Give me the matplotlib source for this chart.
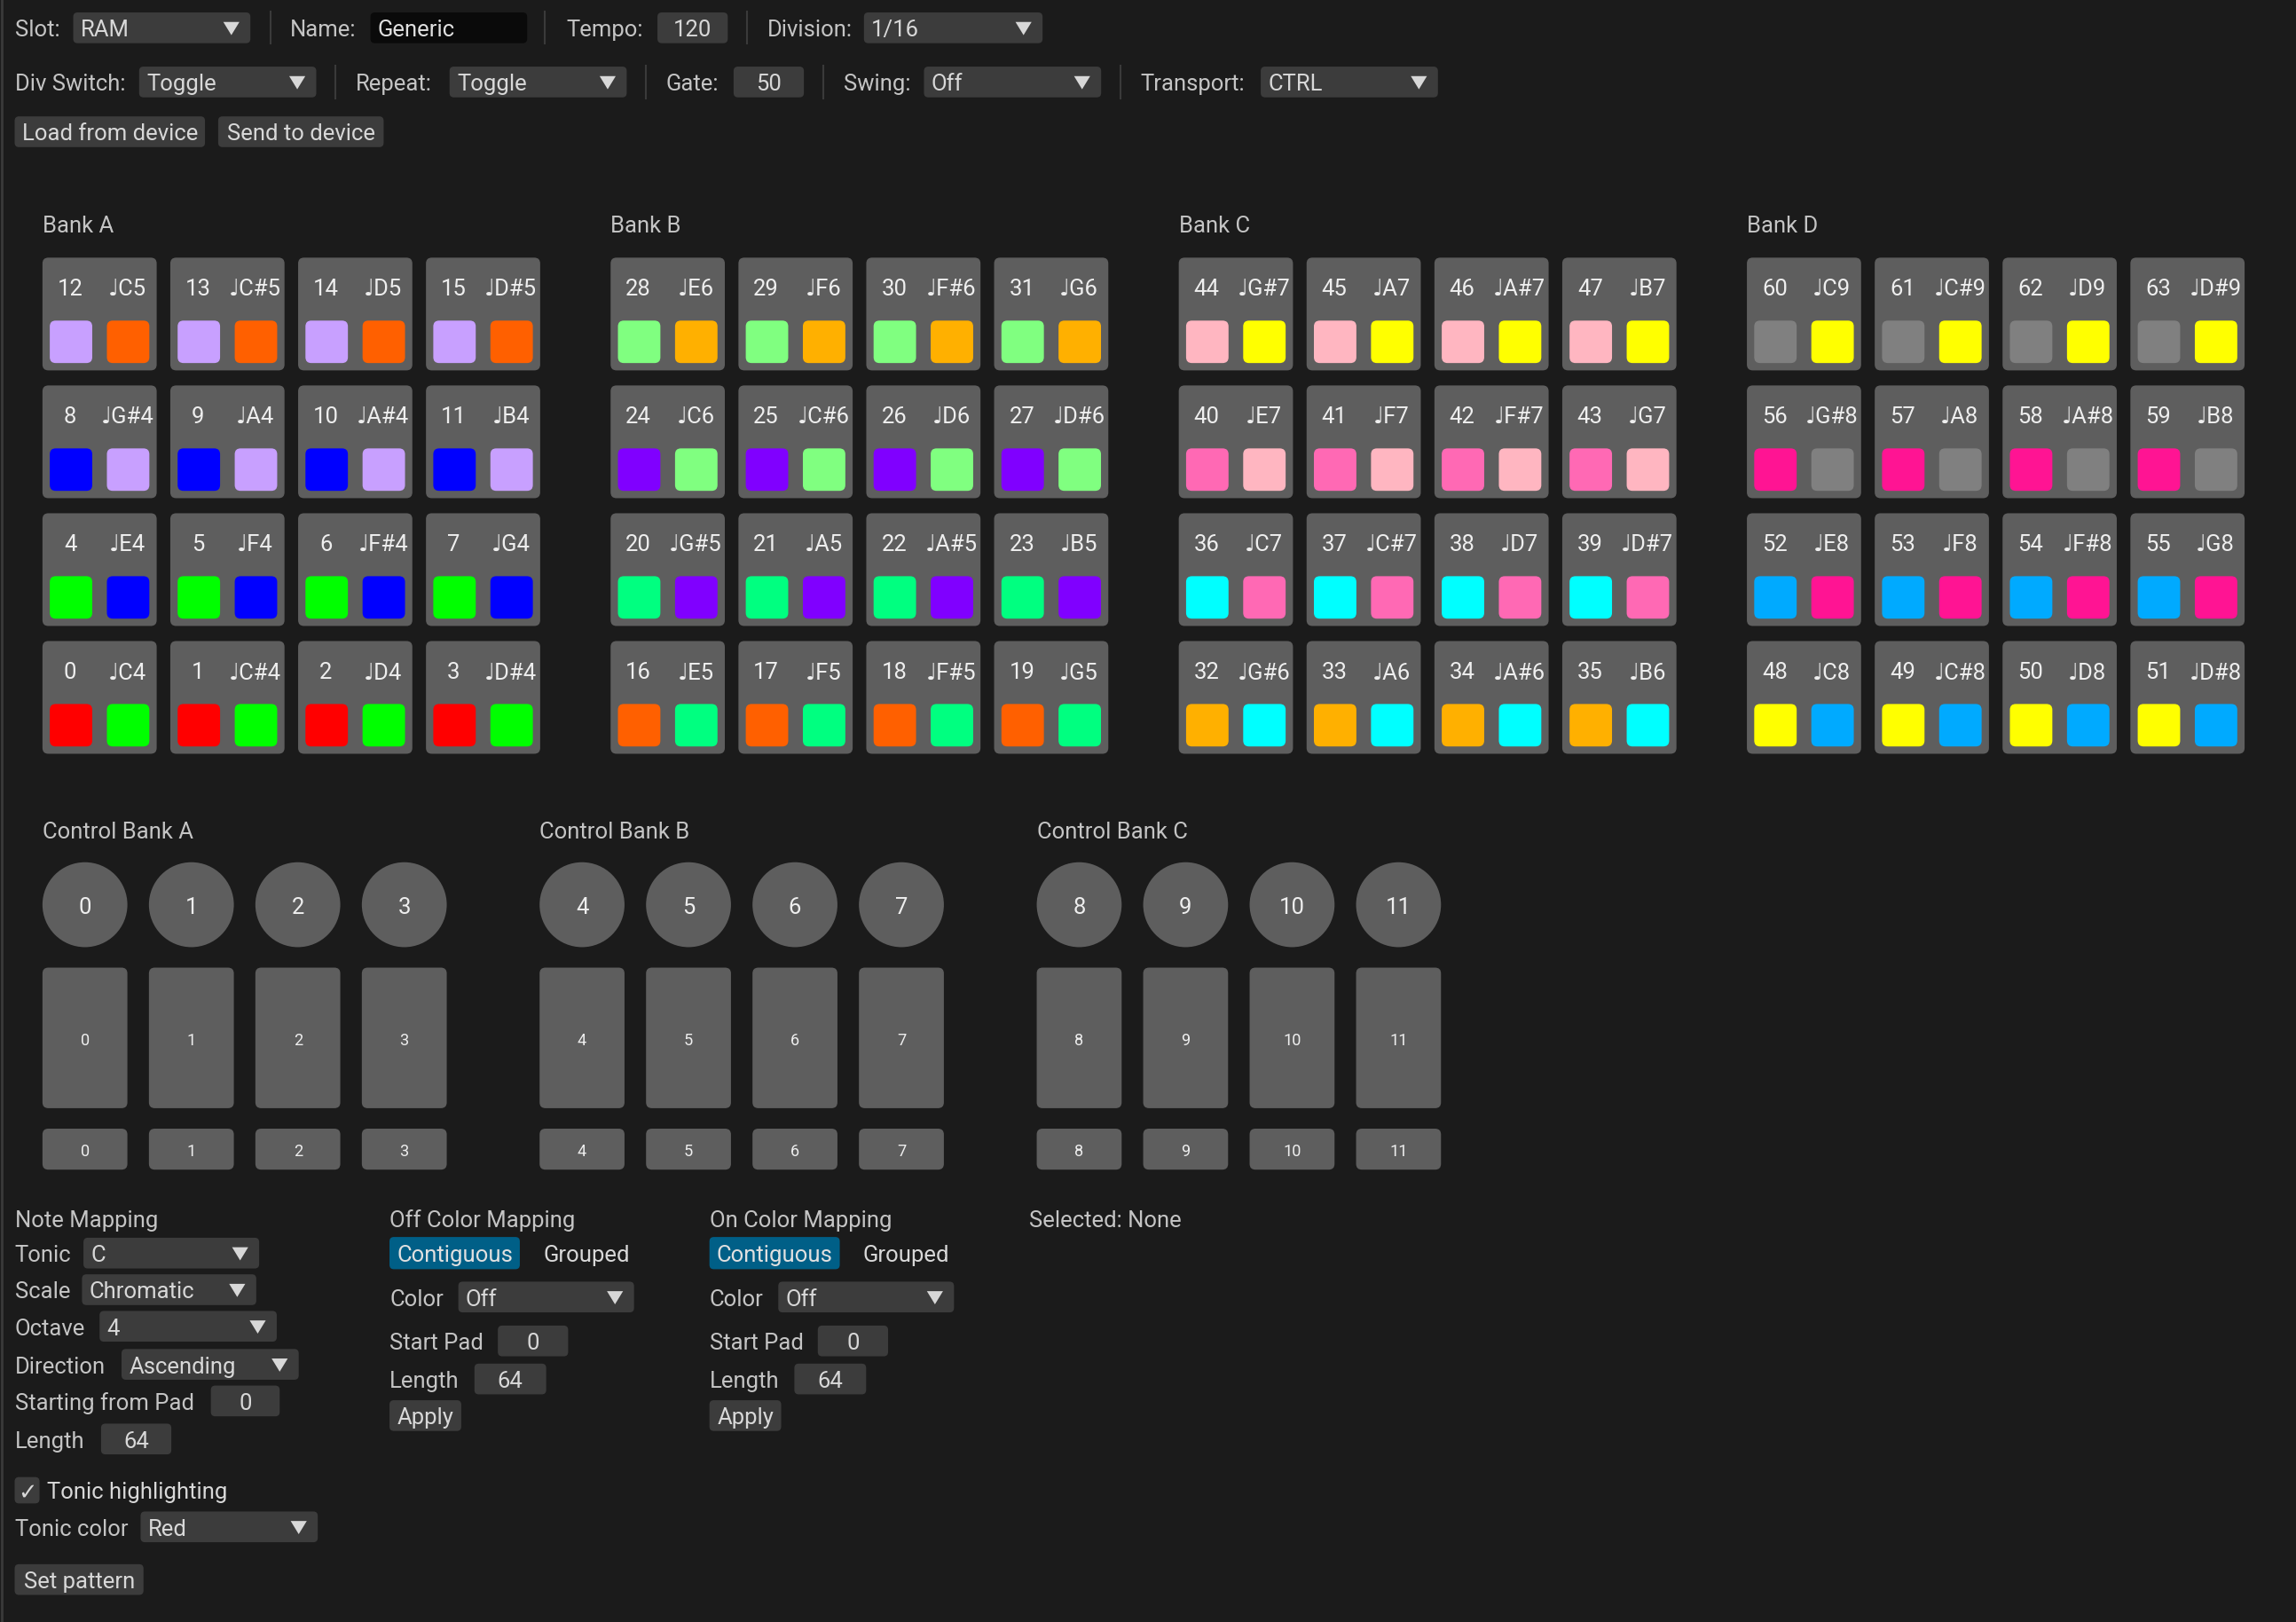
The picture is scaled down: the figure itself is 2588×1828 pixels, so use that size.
import matplotlib
matplotlib.use("Agg")
import matplotlib.pyplot as plt
from matplotlib.patches import FancyBboxPatch, Circle, Polygon

plt.rcParams['font.family'] = ['Roboto', 'DejaVu Sans']

# ---------------- data ----------------
bank_names = ["Bank A", "Bank B", "Bank C", "Bank D"]
note_names = ["C", "C#", "D", "D#", "E", "F", "F#", "G", "G#", "A", "A#", "B"]
base_octave = 4
color_cycle = ["#ff0000", "#00ff00", "#0000ff", "#c8a0ff", "#ff6000", "#00ff80",
               "#8000ff", "#80ff80", "#ffb000", "#00ffff", "#ff69b4", "#ffb6c1",
               "#ffff00", "#00aaff", "#ff1493", "#808080", "#ffff00"]
control_bank_names = ["Control Bank A", "Control Bank B", "Control Bank C"]
controls = [[0, 1, 2, 3], [4, 5, 6, 7], [8, 9, 10, 11]]

BG = "#1b1b1b"; WID = "#3c3c3c"; PAD = "#5e5e5e"; TXT = "#c4c4c4"; WHITE = "#eeeeee"

fig = plt.figure(figsize=(25.88, 18.28), dpi=100, facecolor=BG)
ax = fig.add_axes([0, 0, 1, 1])
ax.set_xlim(0, 1568); ax.set_ylim(1108, 0); ax.axis("off")
ax.set_facecolor(BG)

S = 1.65 * 72 / 100  # display px -> pt
FS = 15.5 * S
DY = 1.8

def rbox(x0, y0, x1, y1, fc, r=3):
    ax.add_patch(FancyBboxPatch((x0, y0), x1 - x0, y1 - y0,
                 boxstyle=f"round,pad=0,rounding_size={r}", fc=fc, ec="none"))

def txt(x, y, s, c=TXT, fs=FS, ha="left", **kw):
    ax.text(x, y + DY, s, color=c, fontsize=fs, ha=ha, va="center", **kw)

def combo(x0, x1, y, s):
    rbox(x0, y - 10.5, x1, y + 10.5, WID)
    txt(x0 + 5, y, s, c="#d8d8d8")
    tx = x1 - 13
    ax.add_patch(Polygon([(tx - 5.5, y - 4), (tx + 5.5, y - 4), (tx, y + 5)], fc="#d8d8d8", ec="none"))

def field(x0, x1, y, s, fc=WID, ha="center"):
    rbox(x0, y - 10.5, x1, y + 10.5, fc)
    if ha == "center":
        txt((x0 + x1) / 2, y, s, c="#d8d8d8", ha="center")
    else:
        txt(x0 + 5, y, s, c="#e0e0e0")

def button(x0, x1, y, s):
    rbox(x0, y - 10.5, x1, y + 10.5, WID)
    txt((x0 + x1) / 2, y, s, c="#d8d8d8", ha="center")

def sep(x, y):
    ax.plot([x, x], [y - 11, y + 11], color="#3a3a3a", lw=1.5)

ax.plot([1, 1], [0, 1108], color="#3a3a3a", lw=2)

# row 1
y = 19
txt(10, y, "Slot:"); combo(50, 171, y, "RAM"); sep(185, y)
txt(198, y, "Name:"); field(253, 360, y, "Generic", fc="#0a0a0a", ha="left"); sep(372, y)
txt(387, y, "Tempo:"); field(449, 497, y, "120"); sep(510, y)
txt(524, y, "Division:"); combo(590, 712, y, "1/16")
# row 2
y = 56
txt(10, y, "Div Switch:"); combo(95, 216, y, "Toggle"); sep(229, y)
txt(243, y, "Repeat:"); combo(307, 428, y, "Toggle"); sep(441, y)
txt(455, y, "Gate:"); field(501, 549, y, "50"); sep(562, y)
txt(576, y, "Swing:"); combo(631, 752, y, "Off"); sep(765, y)
txt(779, y, "Transport:"); combo(861, 982, y, "CTRL")
# row 3
button(10, 140, 90, "Load from device"); button(149, 262, 90, "Send to device")

# pad banks
for b, name in enumerate(bank_names):
    bx = 29 + b * 388
    txt(bx, 153, name)
    for row in range(4):
        group = b * 4 + (3 - row)
        for col in range(4):
            n = group * 4 + col
            x0 = bx + col * 87.3
            y0 = 176 + row * 87.3
            rbox(x0, y0, x0 + 78, y0 + 77, PAD, r=4)
            txt(x0 + 19, y0 + 20, str(n), c=WHITE, ha="center")
            nn = note_names[n % 12] + str(base_octave + n // 12)
            txt(x0 + 58, y0 + 20, "\u2669" + nn, c=WHITE, ha="center")
            rbox(x0 + 5, y0 + 43, x0 + 34, y0 + 72, color_cycle[group], r=4)
            rbox(x0 + 44, y0 + 43, x0 + 73, y0 + 72, color_cycle[group + 1], r=4)

# control banks
for b, name in enumerate(control_bank_names):
    bx = 29 + b * 339.5
    txt(bx, 567, name)
    for i, c in enumerate(controls[b]):
        x0 = bx + i * 72.7
        ax.add_patch(Circle((x0 + 29, 618), 29, fc=PAD, ec="none"))
        txt(x0 + 29, 618, str(c), c=WHITE, ha="center")
        rbox(x0, 661, x0 + 58, 757, PAD, r=4)
        txt(x0 + 29, 709, str(c), c=WHITE, ha="center", fs=11 * S)
        rbox(x0, 771, x0 + 58, 799, PAD, r=4)
        txt(x0 + 29, 785, str(c), c=WHITE, ha="center", fs=11 * S)

# note mapping
txt(10, 832, "Note Mapping")
txt(10, 856, "Tonic"); combo(57, 177, 856, "C")
txt(10, 881, "Scale"); combo(56, 175, 881, "Chromatic")
txt(10, 906, "Octave"); combo(68, 189, 906, "4")
txt(10, 932, "Direction"); combo(83, 204, 932, "Ascending")
txt(10, 957, "Starting from Pad"); field(144, 191, 957, "0")
txt(10, 983, "Length"); field(69, 117, 983, "64")
rbox(10, 1009, 27, 1027, WID)
txt(18.5, 1018, "\u2713", c="#d8d8d8", ha="center")
txt(32, 1018, "Tonic highlighting", c="#d8d8d8")
txt(10, 1043, "Tonic color"); combo(96, 217, 1043, "Red")
button(10, 98, 1079, "Set pattern")

# color mappings
for title, ox in [("Off Color Mapping", 266), ("On Color Mapping", 484.5)]:
    txt(ox, 832, title)
    rbox(ox, 845, ox + 89, 867, "#005f87")
    txt(ox + 44.5, 856, "Contiguous", c="#e0e0e0", ha="center")
    txt(ox + 105, 856, "Grouped", c="#d8d8d8")
    txt(ox, 886, "Color"); combo(ox + 47, ox + 167, 886, "Off")
    txt(ox, 916, "Start Pad"); field(ox + 74, ox + 122, 916, "0")
    txt(ox, 942, "Length"); field(ox + 58, ox + 107, 942, "64")
    button(ox, ox + 49, 967, "Apply")

txt(703, 832, "Selected: None")

fig.savefig("out.png", dpi=100, facecolor=BG)
